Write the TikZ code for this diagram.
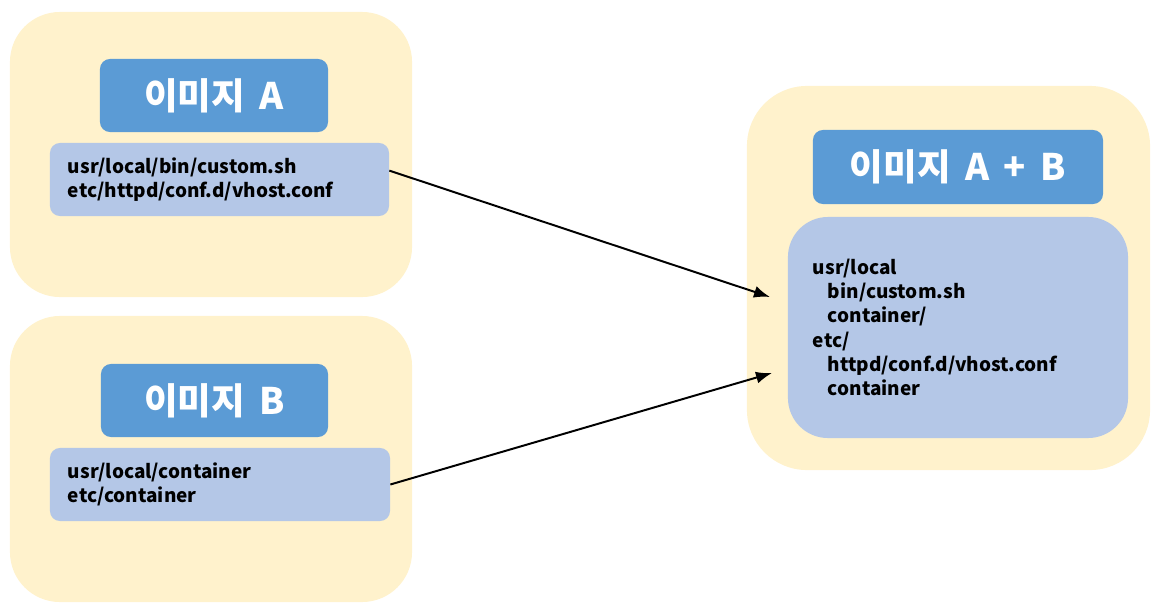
\documentclass[tikz,border=0pt]{standalone}
\usepackage{fontspec}
\setmainfont{Noto Sans CJK KR}
\usetikzlibrary{positioning}
\usetikzlibrary{arrows.meta}

\definecolor{imgback}{HTML}{FFF2CC}
\definecolor{imghead}{HTML}{5B9BD5}
\definecolor{imgfiles}{HTML}{B4C7E7}

\tikzset{
    imgbox/.style={fill=imgback, rounded corners=1.25cm, inner sep=0pt},
    headbox/.style={fill=imghead, rounded corners=0.25cm, text=white,
        font=\fontsize{26}{30}\selectfont\bfseries, inner sep=0pt},
    filebox/.style={fill=imgfiles, rounded corners=0.25cm, align=left,
        font=\fontsize{13.5}{17.3}\selectfont\bfseries},
    merge/.style={line width=1.4pt, -{Latex[length=4mm, width=3mm]}},
}

\begin{document}
\begin{tikzpicture}[x=0.025cm, y=-0.025cm]
    \useasboundingbox (0,0) rectangle (1160,613);

    % image A
    \node[imgbox, minimum width=10.05cm, minimum height=7.125cm] (imgA) at (211,154.5) {};
    \node[headbox, minimum width=5.7cm, minimum height=1.825cm] (headA) at (214,95.5) {이미지 \,A};
    \node[filebox, inner xsep=0.45cm, text width=7.575cm, minimum height=1.825cm] (filesA) at (219.5,179.5)
        {usr/local/bin/custom.sh\\etc/httpd/conf.d/vhost.conf};

    % image B
    \node[imgbox, minimum width=10.05cm, minimum height=7.15cm] (imgB) at (211,459) {};
    \node[headbox, minimum width=5.675cm, minimum height=1.825cm] (headB) at (214.5,400.5) {이미지 \,B};
    \node[filebox, inner xsep=0.45cm, text width=7.6cm, minimum height=1.825cm] (filesB) at (220,484.5)
        {usr/local/container\\etc/container};

    % image A + B
    \node[imgbox, rounded corners=1.5cm, minimum width=10.075cm, minimum height=9.6cm] (imgAB) at (948.5,278) {};
    \node[headbox, minimum width=7.25cm, minimum height=1.85cm] (headAB) at (958,167) {이미지 \,A \,+\, B};
    \node[filebox, rounded corners=1cm, inner xsep=0.625cm, text width=7.25cm, minimum height=5.525cm] (filesAB) at (958,327.5)
        {usr/local\\
         \hspace*{0.375cm}bin/custom.sh\\
         \hspace*{0.375cm}container/\\
         etc/\\
         \hspace*{0.375cm}httpd/conf.d/vhost.conf\\
         \hspace*{0.375cm}container};

    \coordinate (inA) at (770,297);
    \coordinate (inB) at (772,373);
    \draw[merge] (filesA.3) -- (inA);
    \draw[merge] (filesB.east) -- (inB);
\end{tikzpicture}
\end{document}
